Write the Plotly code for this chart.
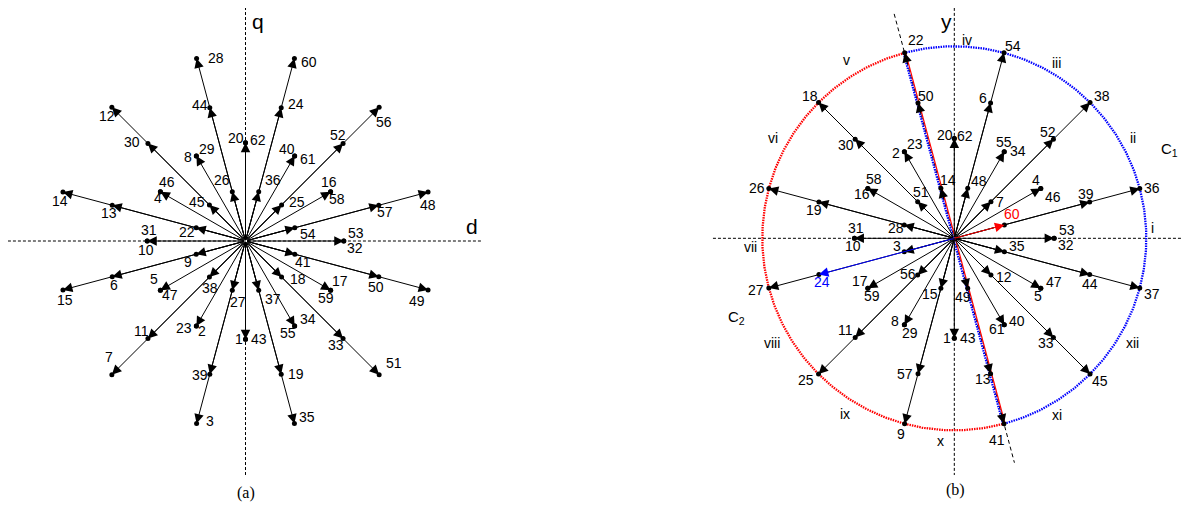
import math
import plotly.graph_objects as go

# ---------------- data ----------------
# panel (a): vector number, direction (deg), magnitude (outer = 1)
a_numbers = [53, 32, 54, 57, 48, 16, 58, 25, 52, 56, 40, 61, 36, 24, 60, 20, 62,
             26, 44, 28, 8, 29, 45, 30, 12, 46, 4, 22, 13, 14, 31, 10,
             9, 6, 15, 5, 47, 38, 11, 7, 23, 2, 27, 39, 3, 1, 43,
             37, 19, 35, 55, 34, 18, 33, 51, 17, 59, 41, 50, 49]
a_angles = [0, 0, 15, 15, 15, 30, 30, 45, 45, 45, 60, 60, 75, 75, 75, 90, 90,
            105, 105, 105, 120, 120, 135, 135, 135, 150, 150, 165, 165, 165, 180, 180,
            195, 195, 195, 210, 210, 225, 225, 225, 240, 240, 255, 255, 255, 270, 270,
            285, 285, 285, 300, 300, 315, 315, 315, 330, 330, 345, 345, 345]
a_mags = [0.52, 0.52, 0.27, 0.73, 1.0, 0.52, 0.52, 0.27, 0.73, 1.0, 0.52, 0.52, 0.27, 0.73, 1.0, 0.52, 0.52,
          0.27, 0.73, 1.0, 0.52, 0.52, 0.27, 0.73, 1.0, 0.52, 0.52, 0.27, 0.73, 1.0, 0.52, 0.52,
          0.27, 0.73, 1.0, 0.52, 0.52, 0.27, 0.73, 1.0, 0.52, 0.52, 0.27, 0.73, 1.0, 0.52, 0.52,
          0.27, 0.73, 1.0, 0.52, 0.52, 0.27, 0.73, 1.0, 0.52, 0.52, 0.27, 0.73, 1.0]

# panel (b)
b_numbers = [53, 32, 60, 39, 36, 4, 46, 7, 52, 38, 55, 34, 48, 6, 54, 20, 62,
             14, 50, 22, 2, 23, 51, 30, 18, 58, 16, 28, 19, 26, 31, 10,
             3, 24, 27, 17, 59, 56, 11, 25, 8, 29, 15, 57, 9, 1, 43,
             49, 13, 41, 61, 40, 12, 33, 45, 5, 47, 35, 44, 37]
b_angles = a_angles
b_mags = a_mags

# circle halves and sector labels of panel (b)
c1_arc_deg = [-75, 105]    # blue half (C1)
c2_arc_deg = [105, 285]    # red half (C2)
sector_labels = ["i", "ii", "iii", "iv", "v", "vi", "vii", "viii", "ix", "x", "xi", "xii"]

# ---------------- layout helpers ----------------
OFF = 8                      # page body margin of the html page
FW, FH = 1190 - OFF, 512 - 2 * OFF
A_CX, A_CY, A_S = 245.5 - OFF, 241.0 - OFF, 189.0
B_CX, B_CY, B_S = 954.3 - OFF, 238.3 - OFF, 192.0
A_RIGHT = 482.0
B_LEFT = 700.0 - OFF

a_label_off = {28: (19, 0), 60: (15, -4), 12: (-5, -9), 56: (5, -15), 44: (-10, 3), 24: (15, 4),
               30: (-16, 1), 52: (-5, 8), 20: (-10, 5), 62: (12, 3), 8: (-8, -1), 29: (11, 7),
               40: (-8, 7), 61: (13, -3), 46: (7, 10), 4: (-2, -6), 26: (-10, 12), 36: (14, 12),
               16: (-2, 10), 58: (6, -7), 14: (-3, -9), 48: (0, -13), 45: (-12, 3), 25: (15, 3),
               13: (-3, -8), 57: (6, -7), 31: (2, 11), 22: (-9, -4), 54: (13, -6), 53: (12, 8),
               10: (-1, -9), 32: (11, -7), 9: (-8, -8), 41: (8, -8), 6: (2, -8), 15: (2, -10),
               5: (-6, 11), 47: (10, -5), 38: (1, -11), 27: (6, -12), 37: (14, -9), 18: (16, -2),
               17: (9, 9), 59: (-5, -8), 50: (-3, -10), 49: (-11, -11), 11: (-6, 8), 23: (-12, -2),
               2: (6, -5), 1: (-7, 0), 43: (13, 0), 55: (-7, -7), 34: (13, 7), 33: (-7, -6),
               7: (-3, 18), 39: (-10, -1), 19: (15, 0), 51: (15, 12), 3: (13, 3), 35: (13, 7)}
b_label_off = {22: (11, 13), 54: (9, 7), 18: (-9, 7), 38: (12, 7), 50: (8, 7), 6: (-8, 5),
               20: (-9, 3), 62: (11, 2), 30: (-9, -6), 52: (-5, 7), 2: (-8, -1), 23: (11, 8),
               55: (0, 10), 34: (14, 1), 58: (6, 9), 16: (-6, -6), 14: (7, 8), 48: (11, 7),
               4: (-5, 8), 46: (12, -9), 26: (-12, 1), 36: (12, 1), 51: (3, 10), 7: (9, 0),
               19: (-5, -8), 39: (-4, 8), 60: (8, 11), 31: (2, 10), 28: (-8, -3), 53: (13, 8),
               10: (-1, -8), 32: (12, -7), 3: (-7, 6), 35: (13, 6), 24: (3, -7), 27: (-13, -2),
               17: (-8, 7), 59: (4, -8), 56: (-10, 1), 15: (-11, -6), 49: (-5, -9), 12: (13, -2),
               47: (13, 6), 5: (-3, -8), 44: (0, -9), 37: (12, -6), 8: (-9, 4), 29: (6, -8),
               1: (-7, 0), 43: (14, 0), 61: (-7, -4), 40: (13, 4), 11: (-10, 7), 33: (-7, -6),
               57: (-13, 0), 13: (-8, -5), 25: (-13, -6), 45: (10, -7), 9: (-4, -10), 41: (-7, -16)}
sector_pos = [(1.033, 0.055), (0.932, 0.521), (0.530, 0.911), (0.065, 1.033), (-0.560, 0.929),
              (-0.943, 0.521), (-1.064, -0.044), (-0.951, -0.544), (-0.569, -0.915),
              (-0.071, -1.054), (0.533, -0.920), (0.927, -0.547)]

FONT = "Liberation Sans, Arial, sans-serif"
SERIF = "Liberation Serif, Times New Roman, serif"
LBL = 14

fig = go.Figure()
annotations = []
top_arrows = []


def xy(ang, mag):
    r = math.radians(ang)
    return mag * math.cos(r), mag * math.sin(r)


def draw_panel(nums, angs, mags, offs, xr, yr, special=None, no_shaft=()):
    special = special or {}
    seen = set()
    px, py = [], []
    for n, a, m in zip(nums, angs, mags):
        x, y = xy(a, m)
        key = (a, m)
        px.append(x)
        py.append(y)
        col = special.get(n, "black")
        if key not in seen or n in special:
            seen.add(key)
            if a in no_shaft:
                tx, ty = xy(a, m - 0.07)
            else:
                tx, ty = 0.0, 0.0
            arr = dict(x=x, y=y, ax=tx, ay=ty, xref=xr, yref=yr,
                       axref=xr, ayref=yr, showarrow=True, text="",
                       arrowhead=2, arrowsize=1.9, arrowwidth=1,
                       arrowcolor=col, standoff=0)
            (top_arrows if n in special else annotations).append(arr)
        dx, dy = offs[n]
        annotations.append(dict(x=x, y=y, xref=xr, yref=yr, text=str(n), showarrow=False,
                                xshift=dx, yshift=dy, font=dict(family=FONT, size=LBL, color=col)))
    fig.add_trace(go.Scatter(x=px, y=py, mode="markers", xaxis=xr, yaxis=yr,
                             marker=dict(color="black", size=5), hoverinfo="skip",
                             showlegend=False))


DASH = dict(color="black", width=1, dash="3px,2px")

# ---- panel (a) axes lines
fig.add_trace(go.Scatter(x=[-1.257, 1.251], y=[0, 0], mode="lines", xaxis="x", yaxis="y",
                         line=DASH, showlegend=False))
fig.add_trace(go.Scatter(x=[0, 0], y=[1.238, -1.238], mode="lines", xaxis="x", yaxis="y",
                         line=DASH, showlegend=False))
draw_panel(a_numbers, a_angles, a_mags, a_label_off, "x", "y")

# ---- panel (b) axes lines
fig.add_trace(go.Scatter(x=[-1.257, 1.25], y=[0, 0], mode="lines", xaxis="x2", yaxis="y2",
                         line=DASH, showlegend=False))
fig.add_trace(go.Scatter(x=[0, 0], y=[1.20, -1.233], mode="lines", xaxis="x2", yaxis="y2",
                         line=DASH, showlegend=False))
sx, sy = xy(105, 1.21)
fig.add_trace(go.Scatter(x=[sx, -sx], y=[sy, -sy], mode="lines", xaxis="x2", yaxis="y2",
                         line=dict(color="black", width=1, dash="4px,3px"), showlegend=False))


def arc(a0, a1, n=240):
    xs, ys = [], []
    for i in range(n + 1):
        t = math.radians(a0 + (a1 - a0) * i / n)
        xs.append(math.cos(t))
        ys.append(math.sin(t))
    return xs, ys


bx, by = arc(*c1_arc_deg)
fig.add_trace(go.Scatter(x=bx, y=by, mode="lines", xaxis="x2", yaxis="y2",
                         line=dict(color="blue", width=2.3, dash="1.5px,1px"), showlegend=False))
rx, ry = arc(*c2_arc_deg)
fig.add_trace(go.Scatter(x=rx, y=ry, mode="lines", xaxis="x2", yaxis="y2",
                         line=dict(color="red", width=2.3, dash="1.5px,1px"), showlegend=False))

# dividing line 22-41 (red + blue)
ex, ey = xy(105, 1.0)
o = 1.0 / B_S
ux, uy = math.cos(math.radians(15)) * o, math.sin(math.radians(15)) * o
fig.add_trace(go.Scatter(x=[ex + ux, -ex + ux], y=[ey + uy, -ey + uy], mode="lines", xaxis="x2", yaxis="y2",
                         line=dict(color="red", width=1.2), showlegend=False))
fig.add_trace(go.Scatter(x=[ex - ux, -ex - ux], y=[ey - uy, -ey - uy], mode="lines", xaxis="x2", yaxis="y2",
                         line=dict(color="blue", width=2.2, dash="1.5px,1px"), showlegend=False))

draw_panel(b_numbers, b_angles, b_mags, b_label_off, "x2", "y2",
           special={60: "red", 24: "blue"}, no_shaft=(105, 285))
annotations = annotations + top_arrows

for t, (x, y) in zip(sector_labels, sector_pos):
    annotations.append(dict(x=x, y=y, xref="x2", yref="y2", text=t, showarrow=False,
                            font=dict(family=FONT, size=LBL, color="black")))

# axis names and captions
annotations += [
    dict(x=0.068, y=A_CY / A_S, xref="x", yref="y", text="q", showarrow=False, yanchor="top",
         font=dict(family=FONT, size=21, color="black")),
    dict(x=1.197, y=0.076, xref="x", yref="y", text="d", showarrow=False,
         font=dict(family=FONT, size=21, color="black")),
    dict(x=0.0, y=-1.335, xref="x", yref="y", text="(a)", showarrow=False,
         font=dict(family=SERIF, size=16, color="black")),
    dict(x=1.232, y=0.06, xref="x2", yref="y2", text="x", showarrow=False, xanchor="right",
         font=dict(family=FONT, size=21, color="black")),
    dict(x=-0.04, y=B_CY / B_S, xref="x2", yref="y2", text="y", showarrow=False, yanchor="top",
         font=dict(family=FONT, size=21, color="black")),
    dict(x=0.004, y=-1.31, xref="x2", yref="y2", text="(b)", showarrow=False,
         font=dict(family=SERIF, size=16, color="black")),
    dict(x=1.123, y=0.46, xref="x2", yref="y2", text="C<sub>1</sub>", showarrow=False,
         font=dict(family=FONT, size=15, color="black")),
    dict(x=-1.133, y=-0.411, xref="x2", yref="y2", text="C<sub>2</sub>", showarrow=False,
         font=dict(family=FONT, size=15, color="black")),
]

ax_common = dict(showgrid=False, zeroline=False, showticklabels=False, ticks="",
                 showline=False, fixedrange=True)
fig.update_layout(
    width=FW, height=FH, margin=dict(l=0, r=0, t=0, b=0, pad=0),
    paper_bgcolor="white", plot_bgcolor="white", showlegend=False,
    xaxis=dict(domain=[0, A_RIGHT / FW], range=[-A_CX / A_S, (A_RIGHT - A_CX) / A_S],
               anchor="y", **ax_common),
    yaxis=dict(domain=[0, 1], range=[-(FH - A_CY) / A_S, A_CY / A_S], anchor="x", **ax_common),
    xaxis2=dict(domain=[B_LEFT / FW, 1], range=[-(B_CX - B_LEFT) / B_S, (FW - B_CX) / B_S],
                anchor="y2", **ax_common),
    yaxis2=dict(domain=[0, 1], range=[-(FH - B_CY) / B_S, B_CY / B_S], anchor="x2", **ax_common),
    annotations=annotations,
)

fig.write_html("out.html")
